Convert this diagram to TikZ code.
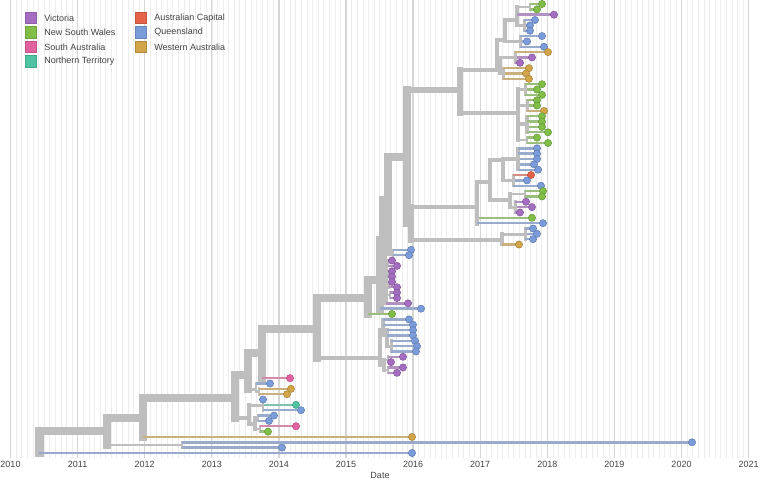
\documentclass[tikz,border=0pt]{standalone}
\usepackage{fontspec}
\setmainfont{Liberation Sans}
\definecolor{vic}{HTML}{A46DC1}
\definecolor{nsw}{HTML}{80BE48}
\definecolor{sa}{HTML}{E262A0}
\definecolor{nt}{HTML}{50C3A2}
\definecolor{act}{HTML}{E6634B}
\definecolor{qld}{HTML}{7B9CDA}
\definecolor{wa}{HTML}{D2A548}
\definecolor{gbase}{HTML}{BEBEBE}
\definecolor{gmajor}{HTML}{D6D6D6}
\definecolor{gminor}{HTML}{EDEDED}
\definecolor{txt}{HTML}{444444}
\colorlet{vicL}{vic!55!gbase}
\colorlet{nswL}{nsw!55!gbase}
\colorlet{saL}{sa!55!gbase}
\colorlet{ntL}{nt!55!gbase}
\colorlet{actL}{act!55!gbase}
\colorlet{qldL}{qld!55!gbase}
\colorlet{waL}{wa!55!gbase}
\tikzset{
  gline/.style={draw=gbase,line cap=rect},
  minorgrid/.style={draw=gminor,line width=0.4pt},
  majorgrid/.style={draw=gmajor,line width=1pt},
  yearlbl/.style={text=txt,font=\fontsize{6.75}{8}\selectfont,inner sep=0pt},
  legtxt/.style={text=txt,font=\fontsize{6.75}{8}\selectfont,inner sep=0pt,anchor=west},
  legsq/.style={minimum width=8.6pt,minimum height=8.6pt,inner sep=0pt,line width=0.5pt},
  tipdot/.style={circle,minimum size=5.4pt,inner sep=0pt,line width=0.4pt}
}
\def\tiplist{0/542/nsw/N35a/2,1/537/nsw/N35a/2,2/554/vic/N35/6,3/535/qld/N35b/3,4/530/qld/N35b/3,5/530/qld/N35b/3,6/542/qld/N36/3,7/527/qld/N36/3,8/544/qld/N36/3,9/548/wa/N37/3,10/532/vic/N37/3,11/520/vic/N37/3,12/529/wa/N38/3,13/526/wa/N38/3,14/529/wa/N38/3,15/542/nsw/N32a/3,16/537/nsw/N32a/3,17/542/nsw/N32a/3,18/537/nsw/N32b/3,19/537/nsw/N32b/3,20/544/wa/N32b/3,21/542/nsw/N32c/4,22/542/nsw/N32c/4,23/542/nsw/N32c/4,24/548/nsw/N32c/4,25/537/nsw/N32d/2,26/548/nsw/N32d/2,27/537/qld/N41/5,28/537/qld/N41/5,29/537/qld/N41/5,30/534/qld/N41/5,31/538/qld/N41/5,32/531/act/N42/3,33/527/qld/N42/3,34/541/qld/N42/3,35/543/nsw/N40a/2,36/542/nsw/N40a/2,37/526/vic/N40b/3,38/532/vic/N40b/3,39/520/vic/N40b/3,40/532/nsw/N27/15,41/543/qld/N27/15,42/533/qld/N28b/3,43/537/qld/N28b/3,44/533/qld/N28b/3,45/519/wa/N28/4,46/411/qld/N23/2,47/409/qld/N23/2,48/392/vic/N21a/2,49/397/vic/N21a/2,50/392/vic/N21b/2,51/392/vic/N21b/2,52/392/vic/N21c/2,53/397/vic/N21c/2,54/397/vic/N21d/2,55/397/vic/N21d/2,56/408/vic/N21/9,57/421/qld/N18/58,58/392/nsw/N14/59,59/409/qld/N16/7,60/413/qld/N16/7,61/413/qld/N16a/5,62/413/qld/N16a/5,63/415/qld/N16b/3,64/417/qld/N16b/3,65/416/qld/N16b/3,66/403/vic/N17a/2,67/391/vic/N17a/2,68/403/vic/N17b/2,69/397/vic/N17b/2,70/290/sa/N7/71,71/270/qld/N8/3,72/291/wa/N8b/2,73/287/wa/N8b/2,74/263/qld/N10/3,75/296/nt/N10/3,76/301/qld/N10/3,77/274/qld/N12/2,78/269/qld/N12/2,79/296/sa/N13/2,80/268/nsw/N13/2,81/412/wa/N2/82,82/692/qld/N3/2,83/282/qld/N3/2,84/412/qld/R/85}
\begin{document}
\begin{tikzpicture}[x=0.75pt,y=-0.75pt]
\fill[white] (0,0) rectangle (760,480);
\useasboundingbox (0,0) rectangle (760,480);
% grid
\foreach \m in {0,...,132}{
  \pgfmathsetmacro\xx{10.5+67.1*\m/12}
  \draw[minorgrid] (\xx,0) -- (\xx,458);
}
\foreach \k in {0,...,11}{
  \pgfmathsetmacro\xx{10.5+67.1*\k}
  \pgfmathtruncatemacro\yr{2010+\k}
  \draw[majorgrid] (\xx,0) -- (\xx,458);
  \node[yearlbl] (yr\yr) at (\xx,464) {\yr};
}
\node[yearlbl] (datelbl) at (380,475) {Date};
% internal nodes
\foreach \nm/\xx/\yy in {R/39/442,N1/107/431,N3/182/445,N2/143/418,N4/235/398,N5/248/375,N7/262/353,N8/256/389,N8b/259/391.5,N6/249/418,N10/263/405,N11/255/424,N12/258/418,N13/260/429,N9/317/329,N15/380/358,N16/383/330,N16a/387/335,N16b/391/346,N17/384/365,N17a/388/360,N17b/388/370,N14/368/298,N18/380/280,N19/383/240,N21/386/285,N21a/388/263,N21b/388/274,N21c/389/284.6,N21d/390/295,N20/388/200,N23/393/252.5,N24/407/157,N26/411/223,N25/460/90,N31/497/70,N33/505/40,N34/500/66,N35/517/20,N35a/530/7,N35b/524/25,N36/520/41.4,N37/515/57.5,N38/503/73.5,N32/518/113,N32a/525/89.5,N32b/527/105.6,N32c/527/124,N32d/527/140,N27/477/207,N29/490/182,N39/503/160,N40/510/200,N41/518/159,N42/513/180,N40a/525/194,N40b/515/207,N28/502/240,N28b/525/234}{
  \coordinate (\nm) at (\xx,\yy);
}
% tips
\foreach \i/\x/\cc/\pp/\np in \tiplist{
  \coordinate (t\i) at (\x,{4+5.345*\i});
}
% internal edges
\foreach \pp/\ch/\np/\nc in {R/N1/85/84,N1/N2/84/82,N1/N3/84/2,N2/N4/82/81,N4/N5/81/74,N4/N6/81/7,N5/N7/74/71,N5/N8/74/3,N8/N8b/3/2,N6/N10/7/3,N6/N11/7/4,N11/N12/4/2,N11/N13/4/2,N7/N9/71/70,N9/N14/70/59,N9/N15/70/11,N15/N16/11/7,N16/N16a/7/5,N16a/N16b/5/3,N15/N17/11/4,N17/N17a/4/2,N17/N17b/4/2,N14/N18/59/58,N18/N19/58/57,N19/N20/57/48,N19/N21/57/9,N21/N21a/9/2,N21/N21b/9/2,N21/N21c/9/2,N21/N21d/9/2,N20/N24/48/46,N20/N23/48/2,N24/N25/46/27,N24/N26/46/19,N25/N31/27/15,N25/N32/27/12,N31/N33/15/9,N31/N34/15/6,N33/N35/9/6,N33/N36/9/3,N35/N35a/6/2,N35/N35b/6/3,N34/N37/6/3,N34/N38/6/3,N32/N32a/12/3,N32/N32b/12/3,N32/N32c/12/4,N32/N32d/12/2,N26/N27/19/15,N26/N28/19/4,N27/N29/15/13,N29/N39/13/8,N29/N40/13/5,N39/N41/8/5,N39/N42/8/3,N40/N40a/5/2,N40/N40b/5/3,N28/N28b/4/3}{
  \pgfmathsetmacro\lwp{(1.6+7.4*sqrt(\np/85))*0.75}
  \pgfmathsetmacro\lwc{(1.6+7.4*sqrt(\nc/85))*0.75}
  \draw[gline,line width=\lwp pt] (\pp) -- (\pp|-\ch);
  \draw[gline,line width=\lwc pt] (\pp|-\ch) -- (\ch);
}
% tip edges
\foreach \i/\x/\cc/\pp/\np in \tiplist{
  \pgfmathsetmacro\lwp{(1.6+7.4*sqrt(\np/85))*0.75}
  \draw[gline,line width=\lwp pt] (\pp) -- (\pp|-t\i);
  \draw[draw=\cc L,line width=1.8pt] (\pp|-t\i) -- (t\i);
}
% tip dots
\foreach \i/\x/\cc/\pp/\np in \tiplist{
  \node[tipdot,fill=\cc,draw=\cc!80!black] (d\i) at (t\i) {};
}
% legend
\foreach \nm/\lbl/\cc/\xx/\yy in {lv/Victoria/vic/31/18,ln/New South Wales/nsw/31/32.5,ls/South Australia/sa/31/47,lt/Northern Territory/nt/31/61.5,la/Australian Capital/act/141/18,lq/Queensland/qld/141/32.5,lw/Western Australia/wa/141/47}{
  \node[legsq,fill=\cc,draw=\cc!85!black] (\nm sq) at (\xx,\yy) {};
  \node[legtxt] (\nm tx) at (\xx+13,\yy) {\lbl};
}
\end{tikzpicture}
\end{document}
